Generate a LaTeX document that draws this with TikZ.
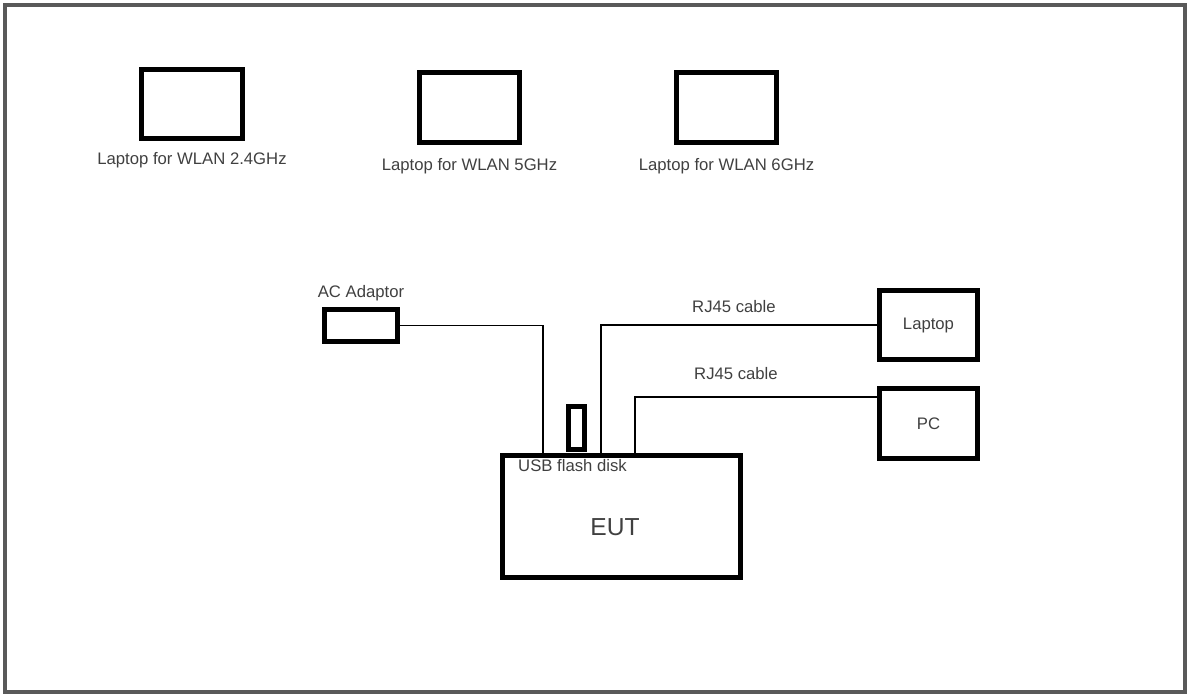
\documentclass[tikz,border=0pt]{standalone}
\usepackage{fontspec}
\setmainfont{Liberation Sans}
\usetikzlibrary{positioning,calc}

\begin{document}
\begin{tikzpicture}[x=0.02cm,y=-0.02cm,
		font=\fontsize{9.5}{11}\selectfont,
		box/.style={draw,line width=2.6pt,rectangle,text=black!75},
		wire/.style={line width=1pt},
		txt/.style={text=black!75}]
	\useasboundingbox (0,0) rectangle (1187,695);
	\draw[black!65,line width=1.8pt] (5,5) rectangle (1185,692);

	% laptops for the WLAN bands
	\node[box,minimum width=2.02cm,minimum height=1.38cm,
		label={[txt,label distance=3pt]below:Laptop for WLAN 2.4GHz}] (wlanA) at (192,104) {};
	\node[box,minimum width=2.0cm,minimum height=1.4cm,
		label={[txt,label distance=4pt]below:Laptop for WLAN 5GHz}] (wlanB) at (469.5,107.5) {};
	\node[box,minimum width=2.0cm,minimum height=1.4cm,
		label={[txt,label distance=4pt]below:Laptop for WLAN 6GHz}] (wlanC) at (726.5,107.5) {};

	% EUT and its peripherals
	\node[box,minimum width=4.76cm,minimum height=2.44cm] (eut) at (621.5,516.5) {};
	\node[txt,font=\fontsize{14}{17}\selectfont] (eutname) at (615,527) {EUT};
	\node[box,minimum width=1.46cm,minimum height=0.64cm,
		label={[txt,label distance=0pt]north:AC Adaptor}] (ac) at (361,325.5) {};
	\node[box,minimum width=0.32cm,minimum height=0.86cm] (usb) at (576.5,428) {};
	\node[txt,below=0.02cm of usb,xshift=-0.08cm] (usbname) {USB flash disk};
	\node[box,minimum width=1.96cm,minimum height=1.38cm] (lap) at (928.5,325) {Laptop};
	\node[box,minimum width=1.96cm,minimum height=1.4cm] (pc) at (928.5,423.5) {PC};

	% cables
	\draw[wire] (ac.east) -| ($(eut.north west)+(42.5,0)$);
	\draw[wire] ($(eut.north west)+(100.5,0)$) |- node[txt,pos=0.75,above=3pt,xshift=-0.1cm] {RJ45 cable} (lap.west);
	\draw[wire] ($(eut.north west)+(134.5,0)$) |- node[txt,pos=0.75,above=6pt,xshift=-0.4cm] {RJ45 cable} ($(pc.north west)+(0,11)$);
\end{tikzpicture}
\end{document}
